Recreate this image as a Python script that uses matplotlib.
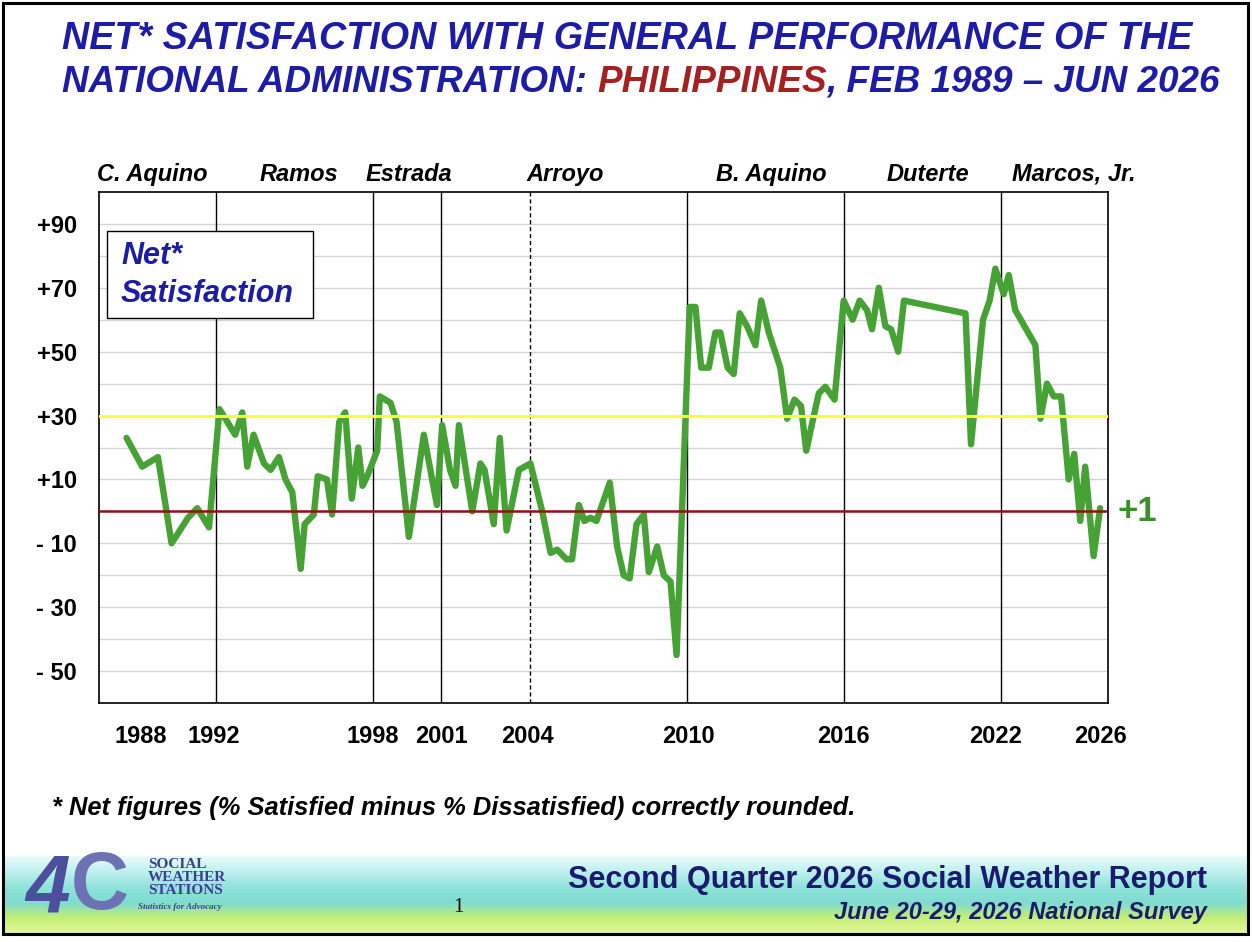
import numpy as np
import matplotlib.pyplot as plt
from matplotlib.patches import Rectangle
from matplotlib.colors import LinearSegmentedColormap

plt.rcParams['font.family'] = ['Liberation Sans', 'DejaVu Sans']

# survey dates (decimal year) and net satisfaction
survey_year = [
    1989.05, 1989.65, 1990.25, 1990.77, 1991.40, 1991.75, 1992.20,
    1992.60, 1993.20, 1993.47, 1993.66, 1993.90, 1994.30, 1994.55, 1994.87,
    1995.12, 1995.38, 1995.70, 1995.85, 1996.20, 1996.35, 1996.70, 1996.90,
    1997.17, 1997.40, 1997.65, 1997.90, 1998.06, 1998.24, 1998.62,
    1998.72, 1999.13, 1999.36, 1999.83, 2000.40, 2000.90,
    2001.10, 2001.40, 2001.61, 2001.74, 2002.25, 2002.56, 2002.72, 2003.07,
    2003.30, 2003.56, 2004.03, 2004.47, 2004.92, 2005.24, 2005.49, 2005.85,
    2006.06, 2006.32, 2006.53, 2006.76, 2006.99, 2007.50, 2007.78, 2008.03,
    2008.26, 2008.52, 2008.80, 2008.99, 2009.31, 2009.56, 2009.82, 2010.05,
    2010.55, 2010.77, 2010.99, 2011.28, 2011.53, 2011.72, 2012.00, 2012.23,
    2012.46, 2012.74, 2013.06, 2013.28, 2013.57, 2014.01, 2014.27, 2014.55,
    2014.80, 2015.00, 2015.29, 2015.48, 2015.73, 2016.08,
    2016.43, 2016.77, 2017.04, 2017.32, 2017.51, 2017.77, 2018.02, 2018.24,
    2018.51, 2018.73, 2021.08, 2021.29, 2021.75, 2022.00,
    2022.22, 2022.54, 2022.73, 2022.98, 2023.75, 2023.94, 2024.19, 2024.45,
    2024.73, 2025.02, 2025.23, 2025.46, 2025.65, 2025.97, 2026.22,
]
net_sat = [
    23, 14, 17, -10, -2, 1, -5,
    32, 24, 31, 14, 24, 15, 13, 17,
    10, 6, -18, -4, -1, 11, 10, -1,
    28, 31, 4, 20, 8, 11, 19,
    36, 34, 28, -8, 24, 2,
    27, 13, 8, 27, 0, 15, 13, -4,
    23, -6, 13, 15, 0, -13, -12, -15,
    -15, 2, -3, -2, -3, 9, -11, -20,
    -21, -4, -1, -19, -11, -20, -22, -45,
    64, 64, 45, 45, 56, 56, 45, 43,
    62, 58, 52, 66, 56, 45, 29, 35,
    33, 19, 30, 37, 39, 35,
    66, 60, 66, 63, 57, 70, 58, 57,
    50, 66, 62, 21, 60, 66,
    76, 68, 74, 63, 52, 29, 40, 36,
    36, 10, 18, -3, 14, -14, 1,
]

presidents = ['C. Aquino', 'Ramos', 'Estrada', 'Arroyo', 'B. Aquino', 'Duterte', 'Marcos, Jr.']
president_label_x = [1990.05, 1995.62, 1999.82, 2005.81, 2013.67, 2019.66, 2025.2]
term_breaks = [1992.45, 1998.45, 2001.05, 2004.45, 2010.45, 2016.45, 2022.45]
break_dashed = [False, False, False, True, False, False, False]

year_labels = ['1988', '1992', '1998', '2001', '2004', '2010', '2016', '2022', '2026']
year_label_x = [1989.6, 1992.37, 1998.44, 2001.08, 2004.36, 2010.5, 2016.42, 2022.22, 2026.22]

y_ticks = [90, 70, 50, 30, 10, -10, -30, -50]
y_labels = ['+90', '+70', '+50', '+30', '+10', '- 10', '- 30', '- 50']

BLUE = '#1c1ca6'
RED = '#a52121'
GREEN = '#46a235'
W, H = 1252, 942


def px(x, y):
    # pixel position (top-left origin) -> figure fraction
    return x / W, 1 - y / H


fig = plt.figure(figsize=(W / 100, H / 100), dpi=100)
fig.patch.set_facecolor('white')

# footer gradient band
grad = LinearSegmentedColormap.from_list(
    'band', ['#e9fbfb', '#bdf0ee', '#8fe3da', '#7fdccf', '#c4ef72', '#e6f7a4'])
band = fig.add_axes([4 / W, 1 - 934 / H, 1244 / W, (934 - 856) / H])
band.imshow(np.linspace(0, 1, 200).reshape(-1, 1), aspect='auto', cmap=grad)
band.axis('off')

# main chart
ax = fig.add_axes([99 / W, 1 - 703 / H, (1108 - 99) / W, (703 - 192) / H])
ax.set_xlim(1988.0, 2026.52)
ax.set_ylim(-60, 100)
for v in range(-50, 100, 10):
    ax.axhline(v, color='#d4d4d4', lw=1.0, zorder=1)
for xb, dashed in zip(term_breaks, break_dashed):
    ax.axvline(xb, color='black', lw=1.0, ls=(0, (3, 2)) if dashed else '-', zorder=2)
ax.plot(survey_year, net_sat, color=GREEN, lw=4.6, solid_joinstyle='round',
        solid_capstyle='round', zorder=4)
ax.axhline(30, color='#ffff33', lw=2.2, zorder=5)
ax.axhline(0, color='#8b1515', lw=1.8, zorder=5)

ax.set_yticks(y_ticks)
ax.set_yticklabels(y_labels, fontsize=17, fontweight='bold')
ax.set_xticks(year_label_x)
ax.set_xticklabels(year_labels, fontsize=17, fontweight='bold')
ax.tick_params(axis='y', length=0, pad=16)
ax.tick_params(axis='x', length=0, pad=16)
for s in ax.spines.values():
    s.set_linewidth(1.2)

for name, xc in zip(presidents, president_label_x):
    ax.text(xc, 1.035, name, transform=ax.get_xaxis_transform(), ha='center',
            va='center', fontsize=17, fontweight='bold', fontstyle='italic')

ax.annotate(f'{net_sat[-1]:+d}', xy=(1.0, 0), xycoords=('axes fraction', 'data'),
            xytext=(7, 0), textcoords='offset points', ha='left', va='center',
            fontsize=25, fontweight='bold', color='#3d8f2e')

# legend box
x0, y0 = px(107, 318)
fig.add_artist(Rectangle((x0, y0), 206 / W, 87 / H, transform=fig.transFigure,
                         facecolor='white', edgecolor='black', lw=1.0, zorder=10))
fig.text(*px(121, 256), 'Net*', fontsize=22, fontweight='bold', fontstyle='italic',
         color=BLUE, va='center', zorder=11)
fig.text(*px(121, 294), 'Satisfaction', fontsize=22, fontweight='bold',
         fontstyle='italic', color=BLUE, va='center', zorder=11)

# title, both lines start at the same left edge
fig.text(*px(62, 39), 'NET* SATISFACTION WITH GENERAL PERFORMANCE OF THE',
         ha='left', va='center', color=BLUE, fontsize=27.2, fontweight='bold',
         fontstyle='italic')
tkw = dict(fontsize=26.6, fontweight='bold', fontstyle='italic')
parts = [('NATIONAL ADMINISTRATION: ', BLUE), ('PHILIPPINES', RED),
         (', FEB 1989 \u2013 JUN 2026', BLUE)]
over = fig.add_axes([0, 0, 1, 1])
over.axis('off')
over.set_xlim(0, 1)
over.set_ylim(0, 1)
prev = over.text(*px(62, 82), parts[0][0], color=parts[0][1], va='center', ha='left', **tkw)
for s, c in parts[1:]:
    prev = over.annotate(s, xy=(1, 0), xycoords=prev, va='bottom', ha='left', color=c, **tkw)

# footnote
fig.text(*px(52, 808), '* Net figures (% Satisfied minus % Dissatisfied) correctly rounded.',
         fontsize=18.4, fontweight='bold', fontstyle='italic', va='center')

# footer texts
fig.text(*px(1207, 880), 'Second Quarter 2026 Social Weather Report', ha='right',
         va='center', fontsize=22, fontweight='bold', color='#1b1b6e')
fig.text(*px(1207, 912), 'June 20-29, 2026 National Survey', ha='right',
         va='center', fontsize=17, fontweight='bold', fontstyle='italic', color='#1b1b6e')
fig.text(*px(458, 908), '1', ha='center', va='center', fontsize=15,
         family='Liberation Serif')

# logo, roughly
fig.text(*px(48, 890), '4', ha='center', va='center', fontsize=58, fontweight='bold',
         fontstyle='italic', color='#4b4f9c')
fig.text(*px(100, 888), 'C', ha='center', va='center', fontsize=58, fontweight='bold',
         color='#6d72b4')
for i, w in enumerate(['SOCIAL', 'WEATHER', 'STATIONS']):
    fig.text(*px(148, 864 + i * 13.5), w, ha='left', va='center', fontsize=11,
             fontweight='bold', family='Liberation Serif', color='#3b3f8f')
fig.text(*px(138, 907), 'Statistics for Advocacy', ha='left', va='center', fontsize=6.5,
         fontweight='bold', fontstyle='italic', family='Liberation Serif', color='#3b3f8f')

# slide border
fig.add_artist(Rectangle(px(3, 934), 1245 / W, 931 / H, transform=fig.transFigure,
                         fill=False, edgecolor='black', lw=2.2, zorder=20))

fig.savefig('out.png', dpi=100)
